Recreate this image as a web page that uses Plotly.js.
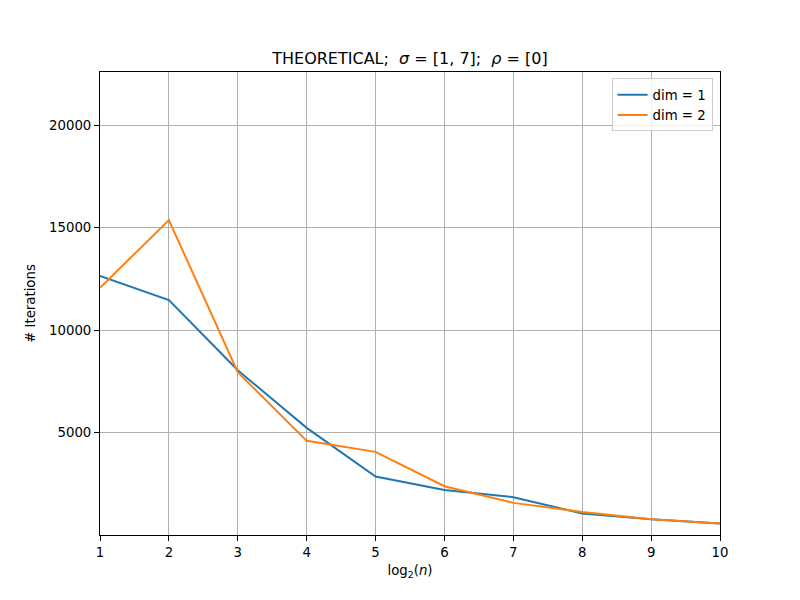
<!DOCTYPE html>
<html>
<head>
<meta charset="utf-8">
<script src="https://cdn.plot.ly/plotly-3.0.1.min.js"></script>
<style>
  html, body { margin: 0; padding: 0; background: #fff; }
  #chart { width: 800px; height: 600px; }
</style>
</head>
<body>
<div id="chart"></div>
<script>
// log2(n) for problem sizes n = 2 .. 1024
const log2n = [1, 2, 3, 4, 5, 6, 7, 8, 9, 10];

// Iteration counts per dimension
const itersDim1 = [12650, 11465, 8045, 5230, 2856, 2200, 1846, 1050, 766, 562];
const itersDim2 = [12066, 15371, 7945, 4595, 4058, 2383, 1568, 1128, 771, 562];

const seriesNames = ['dim = 1', 'dim = 2'];
const yTickVals = [5000, 10000, 15000, 20000];

const font = 'DejaVu Sans, sans-serif';

const traces = [
  { x: log2n, y: itersDim1, name: seriesNames[0], mode: 'lines',
    line: { color: '#1f77b4', width: 2 } },
  { x: log2n, y: itersDim2, name: seriesNames[1], mode: 'lines',
    line: { color: '#ff7f0e', width: 2 } }
];

const axisCommon = {
  showline: true, linecolor: '#000', linewidth: 1, mirror: true,
  ticks: 'outside', ticklen: 5, tickwidth: 1, tickcolor: '#000',
  showgrid: true, gridcolor: '#b0b0b0', gridwidth: 1,
  zeroline: false,
  tickfont: { family: font, size: 13.3, color: '#000' }
};

const layout = {
  width: 800, height: 600,
  margin: { l: 100, r: 80, t: 72, b: 65 },
  paper_bgcolor: '#fff', plot_bgcolor: '#fff',
  font: { family: font, color: '#000' },
  title: {
    text: 'THEORETICAL;  <i>σ</i> = [1, 7];  <i>ρ</i> = [0]',
    font: { family: font, size: 16, color: '#000' },
    x: 0.5125, xanchor: 'center', y: 0.903, yanchor: 'middle'
  },
  xaxis: Object.assign({}, axisCommon, {
    range: [1, 10],
    tickvals: log2n,
    title: { text: 'log<sub>2</sub>(<i>n</i>)', font: { family: font, size: 13.3 }, standoff: 6 }
  }),
  yaxis: Object.assign({}, axisCommon, {
    range: [0, 22600],
    tickvals: yTickVals,
    tickformat: 'd',
    title: { text: '# Iterations', font: { family: font, size: 13.3 }, standoff: 10 }
  }),
  legend: {
    x: 0.988, y: 0.986, xanchor: 'right', yanchor: 'top',
    bgcolor: 'rgba(255,255,255,0.8)', bordercolor: '#cccccc', borderwidth: 1,
    font: { family: font, size: 13.3, color: '#000' },
    itemwidth: 30,
    tracegroupgap: 0
  },
  showlegend: true
};

Plotly.newPlot('chart', traces, layout, { displayModeBar: false, staticPlot: true });
</script>
</body>
</html>
